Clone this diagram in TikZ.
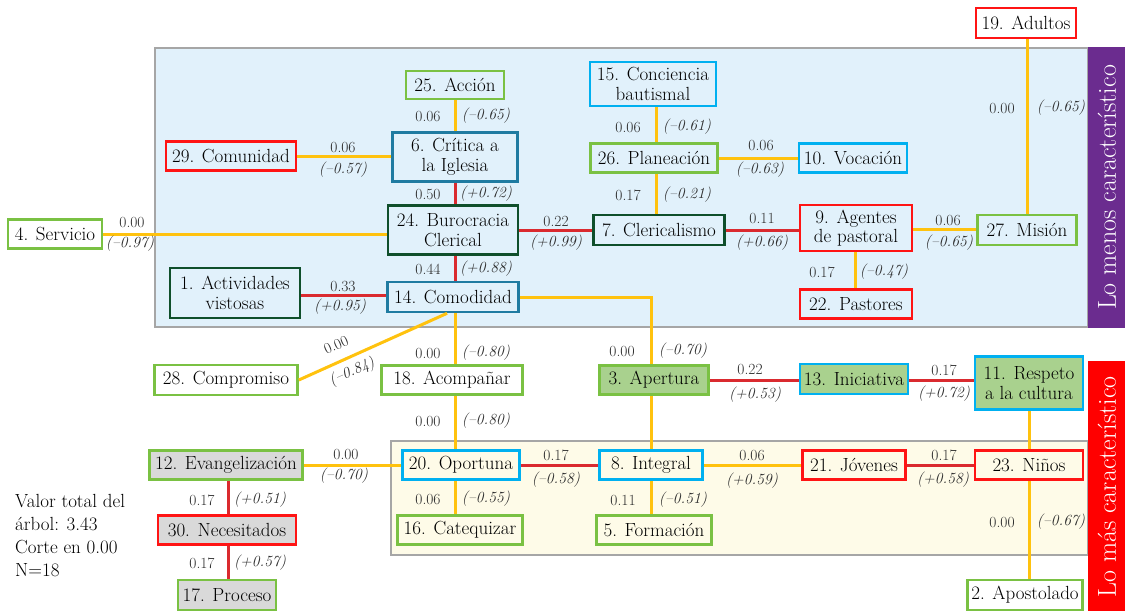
\documentclass[tikz,border=0pt]{standalone}
\usepackage{fontspec}
\definecolor{cgreen}{HTML}{7AC143}
\definecolor{cred}{HTML}{FF1414}
\definecolor{ccyan}{HTML}{00B0F0}
\definecolor{cteal}{HTML}{1F7BA1}
\definecolor{cdkgreen}{HTML}{0F4F2B}
\definecolor{eyel}{HTML}{FFC20E}
\definecolor{ered}{HTML}{DA2A2F}
\definecolor{fgreen}{HTML}{A9D18E}
\definecolor{fgray}{HTML}{D9D9D9}
\definecolor{bgblue}{HTML}{E1F1FB}
\definecolor{bgcream}{HTML}{FEFBE8}
\definecolor{cpurple}{HTML}{6B2C8F}
\definecolor{lblgray}{HTML}{2B2B2B}
\begin{document}
\begin{tikzpicture}[x=1pt,y=-1pt,
  box/.style={draw, line width=2.6pt, inner sep=0pt, align=center,
    font=\fontsize{19}{19.5}\selectfont},
  gb/.style={box, draw=cgreen},
  rb/.style={box, draw=cred},
  cb/.style={box, draw=ccyan},
  tb/.style={box, draw=cteal},
  db/.style={box, draw=cdkgreen},
  ye/.style={draw=eyel, line width=3pt},
  re/.style={draw=ered, line width=3pt},
  num/.style={text=lblgray, inner sep=0pt, font=\fontsize{15.5}{16}\selectfont},
  itl/.style={text=lblgray, inner sep=0pt, font=\fontsize{15.5}{16}\selectfont\itshape},
  side/.style={rotate=90, text=white, inner sep=0pt, font=\fontsize{26}{26}\selectfont}
]
\useasboundingbox (0,0) rectangle (1125,611);
% regions
\draw[fill=bgblue, draw=gray!70, line width=1.2pt] (155,48) rectangle (1088,327);
\draw[fill=bgcream, draw=gray!70, line width=1.2pt] (391,441) rectangle (1088,555);
\fill[cpurple] (1088,47) rectangle (1125,328);
\fill[red] (1088,361) rectangle (1125,611);
\node[side] (sideA) at (1107,187.5) {Lo menos característico};
\node[side] (sideB) at (1107,487) {Lo más característico};

% nodes
\node[rb, minimum width=100, minimum height=30] (n19) at (1026,23) {19. Adultos};
\node[gb, minimum width=98, minimum height=28] (n25) at (455,85) {25. Acción};
\node[cb, minimum width=126, minimum height=44] (n15) at (653,84) {15. Conciencia\\bautismal};
\node[rb, minimum width=130, minimum height=29] (n29) at (231,156) {29. Comunidad};
\node[tb, minimum width=125, minimum height=49] (n6) at (455,157) {6. Crítica a\\la Iglesia};
\node[gb, minimum width=127, minimum height=29] (n26) at (654,158) {26. Planeación};
\node[cb, minimum width=108, minimum height=29] (n10) at (853,158) {10. Vocación};
\node[gb, minimum width=94, minimum height=29] (n4) at (55,234) {4. Servicio};
\node[db, minimum width=130, minimum height=49] (n24) at (453,230) {24. Burocracia\\Clerical};
\node[db, minimum width=131, minimum height=30] (n7) at (659,230) {7. Clericalismo};
\node[rb, minimum width=112, minimum height=46] (n9) at (856,228) {9. Agentes\\de pastoral};
\node[gb, minimum width=99, minimum height=30] (n27) at (1027,230) {27. Misión};
\node[db, minimum width=130, minimum height=50] (n1) at (235,293) {1. Actividades\\vistosas};
\node[tb, minimum width=131, minimum height=30] (n14) at (453,297) {14. Comodidad};
\node[rb, minimum width=112, minimum height=29] (n22) at (856,304) {22. Pastores};
\node[gb, minimum width=143, minimum height=30] (n28) at (226,380) {28. Compromiso};
\node[gb, minimum width=141, minimum height=29] (n18) at (452,380) {18. Acompañar};
\node[gb, fill=fgreen, minimum width=109, minimum height=29] (n3) at (654,380) {3. Apertura};
\node[cb, fill=fgreen, minimum width=108, minimum height=30] (n13) at (854,379) {13. Iniciativa};
\node[cb, fill=fgreen, minimum width=108, minimum height=53] (n11) at (1029,383) {11. Respeto\\a la cultura};
\node[gb, fill=fgray, minimum width=153, minimum height=29] (n12) at (226,465) {12. Evangelización};
\node[cb, minimum width=117, minimum height=29] (n20) at (461,465) {20. Oportuna};
\node[cb, minimum width=103, minimum height=29] (n8) at (651,465) {8. Integral};
\node[rb, minimum width=103, minimum height=29] (n21) at (854,465) {21. Jóvenes};
\node[rb, minimum width=108, minimum height=29] (n23) at (1029,465) {23. Niños};
\node[rb, fill=fgray, minimum width=138, minimum height=29] (n30) at (227,530) {30. Necesitados};
\node[gb, minimum width=125, minimum height=29] (n16) at (460,530) {16. Catequizar};
\node[gb, minimum width=115, minimum height=29] (n5) at (654,530) {5. Formación};
\node[gb, fill=fgray, minimum width=98, minimum height=30] (n17) at (227,595) {17. Proceso};
\node[gb, minimum width=115, minimum height=30] (n2) at (1025,595) {2. Apostolado};

\node[anchor=north west, inner sep=0pt, align=left, font=\fontsize{19}{23}\selectfont] (info) at (15,494)
  {Valor total del\\árbol: 3.43\\Corte en 0.00\\N=18};

% columns and rows
\coordinate (cA) at (455,0);
\coordinate (cB) at (656,0);
\coordinate (cC) at (651,0);
\coordinate (cD) at (855,0);
\coordinate (cE) at (1027,0);
\coordinate (cF) at (1029,0);
\coordinate (cG) at (228,0);
\coordinate (rA) at (0,295);
\coordinate (rB) at (0,380);
\coordinate (rC) at (0,229);

% edges
\draw[ye] (n25.south -| cA) -- (n6.north -| cA);
\draw[re] (n6.south -| cA) -- (n24.north -| cA);
\draw[re] (n24.south -| cA) -- (n14.north -| cA);
\draw[ye] (n14.south -| cA) -- (n18.north -| cA);
\draw[ye] (n18.south -| cA) -- (n20.north -| cA);
\draw[ye] (n20.south -| cA) -- (n16.north -| cA);
\draw[ye] (n29.east) -- (n29.east -| n6.west);
\draw[ye] (n4.east) -- (n4.east -| n24.west);
\draw[re] (n24.east) -- (n7.west);
\draw[re] (n7.east) -- (n7.east -| n9.west);
\draw[ye] (n9.east |- rC) -- (n27.west |- rC);
\draw[re] (n1.east |- rA) -- (n14.west |- rA);
\draw[ye] (n15.south -| cB) -- (n26.north -| cB);
\draw[ye] (n26.south -| cB) -- (n7.north -| cB);
\draw[ye] (n26.east) -- (n10.west);
\draw[ye] (n9.south -| cD) -- (n22.north -| cD);
\draw[ye] (n19.south -| cE) -- (n27.north -| cE);
\draw[ye] (n28.east) -- (n14.250);
\draw[ye] (n14.east) -| (n3.north -| cC);
\draw[ye] (n3.south -| cC) -- (n8.north -| cC);
\draw[ye] (n8.south -| cC) -- (n5.north -| cC);
\draw[re] (n3.east |- rB) -- (n13.west |- rB);
\draw[re] (n13.east |- rB) -- (n11.west |- rB);
\draw[ye] (n11.south -| cF) -- (n23.north -| cF);
\draw[ye] (n23.south -| cF) -- (n2.north -| cF);
\draw[ye] (n12.east) -- (n20.west);
\draw[re] (n20.east) -- (n8.west);
\draw[ye] (n8.east) -- (n21.west);
\draw[re] (n21.east) -- (n23.west);
\draw[re] (n12.south -| cG) -- (n30.north -| cG);
\draw[re] (n30.south -| cG) -- (n17.north -| cG);

% edge labels
\node[num] (a1) at (428,116) {0.06};   \node[itl] (b1) at (486,116) {(–0.65)};
\node[num] (a2) at (343,147) {0.06};   \node[itl] (b2) at (343,170) {(–0.57)};
\node[num] (a3) at (428,194) {0.50};   \node[itl] (b3) at (486,194) {(+0.72)};
\node[num] (a4) at (132,222) {0.00};   \node[itl] (b4) at (130,244) {(–0.97)};
\node[num] (a5) at (556,221) {0.22};   \node[itl] (b5) at (556,243) {(+0.99)};
\node[num] (a6) at (428,269) {0.44};   \node[itl] (b6) at (486,269) {(+0.88)};
\node[num] (a7) at (343,286) {0.33};   \node[itl] (b7) at (340,307) {(+0.95)};
\node[num] (a8) at (628,127) {0.06};   \node[itl] (b8) at (687,127) {(–0.61)};
\node[num] (a9) at (628,195) {0.17};   \node[itl] (b9) at (687,195) {(–0.21)};
\node[num] (a10) at (761,145) {0.06};  \node[itl] (b10) at (760,170) {(–0.63)};
\node[num] (a11) at (762,218) {0.11};  \node[itl] (b11) at (762,243) {(+0.66)};
\node[num] (a12) at (1002,108) {0.00}; \node[itl] (b12) at (1061,108) {(–0.65)};
\node[num] (a13) at (948,220) {0.06};  \node[itl] (b13) at (949,243) {(–0.65)};
\node[num] (a14) at (822,272) {0.17};  \node[itl] (b14) at (884,272) {(–0.47)};
\node[num, rotate=24] (a15) at (336,345) {0.00};
\node[itl, rotate=24] (b15) at (352,372) {(–0.84)};
\node[num] (a16) at (428,353) {0.00};  \node[itl] (b16) at (486,353) {(–0.80)};
\node[num] (a17) at (622,351) {0.00};  \node[itl] (b17) at (683,351) {(–0.70)};
\node[num] (a18) at (750,369) {0.22};  \node[itl] (b18) at (755,395) {(+0.53)};
\node[num] (a19) at (944,370) {0.17};  \node[itl] (b19) at (944,394) {(+0.72)};
\node[num] (a20) at (428,421) {0.00};  \node[itl] (b20) at (486,421) {(–0.80)};
\node[num] (a21) at (346,454) {0.00};  \node[itl] (b21) at (344,476) {(–0.70)};
\node[num] (a22) at (556,455) {0.17};  \node[itl] (b22) at (556,480) {(–0.58)};
\node[num] (a23) at (752,455) {0.06};  \node[itl] (b23) at (752,481) {(+0.59)};
\node[num] (a24) at (944,455) {0.17};  \node[itl] (b24) at (943,480) {(+0.58)};
\node[num] (a25) at (428,499) {0.06};  \node[itl] (b25) at (486,499) {(–0.55)};
\node[num] (a26) at (623,500) {0.11};  \node[itl] (b26) at (683,500) {(–0.51)};
\node[num] (a27) at (1002,522) {0.00}; \node[itl] (b27) at (1061,522) {(–0.67)};
\node[num] (a28) at (202,500) {0.17};  \node[itl] (b28) at (260,500) {(+0.51)};
\node[num] (a29) at (202,563) {0.17};  \node[itl] (b29) at (260,563) {(+0.57)};
\end{tikzpicture}
\end{document}
